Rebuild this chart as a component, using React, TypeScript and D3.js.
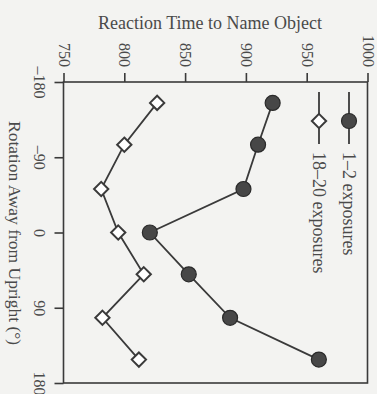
import React, { useEffect, useRef } from 'react';
import * as d3 from 'd3';

// rotation away from upright (deg) and naming times (ms)
const rotations = [-155, -105, -52, 0, 50, 102, 152];
const fewExposures = [922, 910, 898, 821, 853, 887, 960];
const manyExposures = [827, 800, 781, 795, 816, 782, 812];
const rtTicks = [750, 800, 850, 900, 950, 1000];
const rotationTicks = [-180, -90, 0, 90, 180];
const seriesNames = ['1–2 exposures', '18–20 exposures'];

const W = 377;
const H = 394;
const ink = '#3a3a3a';
const textInk = '#4a4a4a';
const font = '"Liberation Serif", "DejaVu Serif", serif';

const App = () => {
  const svgRef = useRef(null);

  useEffect(() => {
    const svg = d3.select(svgRef.current);
    svg.selectAll('*').remove();

    const x = d3.scaleLinear().domain([750, 1000]).range([63.5, 367.5]);
    const y = d3.scaleLinear().domain([-180, 180]).range([82, 383]);

    svg.append('rect').attr('width', W).attr('height', H).attr('fill', '#f3f3f1');

    // frame
    svg
      .append('rect')
      .attr('x', x(750))
      .attr('y', y(-180))
      .attr('width', x(1000) - x(750))
      .attr('height', y(180) - y(-180))
      .attr('fill', 'none')
      .attr('stroke', ink)
      .attr('stroke-width', 1.6);

    // reaction time axis along the top
    const top = svg
      .append('g')
      .attr('transform', `translate(0,${y(-180)})`)
      .call(
        d3
          .axisTop(x)
          .tickValues(rtTicks)
          .tickSize(9)
          .tickSizeOuter(0)
          .tickFormat(d3.format('d'))
      );
    top.select('.domain').remove();
    top.selectAll('line').attr('stroke', ink).attr('stroke-width', 1.6);
    top
      .selectAll('text')
      .attr('y', null)
      .attr('dy', null)
      .attr('transform', 'translate(0,-15) rotate(90)')
      .attr('text-anchor', 'end')
      .attr('dominant-baseline', 'central')
      .attr('fill', textInk)
      .style('font-family', font)
      .style('font-size', '16px');

    // rotation axis along the left
    const left = svg
      .append('g')
      .attr('transform', `translate(${x(750)},0)`)
      .call(
        d3
          .axisLeft(y)
          .tickValues(rotationTicks)
          .tickSize(9)
          .tickSizeOuter(0)
          .tickFormat(d => (d < 0 ? '–' + Math.abs(d) : String(d)))
      );
    left.select('.domain').remove();
    left.selectAll('line').attr('stroke', ink).attr('stroke-width', 1.6);
    left
      .selectAll('text')
      .attr('x', null)
      .attr('dy', null)
      .attr('transform', 'translate(-24,0) rotate(90)')
      .attr('text-anchor', 'middle')
      .attr('dominant-baseline', 'central')
      .attr('fill', textInk)
      .style('font-family', font)
      .style('font-size', '16px');

    svg
      .append('text')
      .attr('x', 210)
      .attr('y', 23)
      .attr('text-anchor', 'middle')
      .attr('dominant-baseline', 'central')
      .attr('fill', textInk)
      .style('font-family', font)
      .style('font-size', '18px')
      .text('Reaction Time to Name Object');

    svg
      .append('text')
      .attr('transform', 'translate(15,233) rotate(90)')
      .attr('text-anchor', 'middle')
      .attr('dominant-baseline', 'central')
      .attr('fill', textInk)
      .style('font-family', font)
      .style('font-size', '17.5px')
      .text('Rotation Away from Upright (°)');

    const line = d3
      .line()
      .x(d => x(d[1]))
      .y(d => y(d[0]));

    const few = rotations.map((r, i) => [r, fewExposures[i]]);
    const many = rotations.map((r, i) => [r, manyExposures[i]]);

    [few, many].forEach(pts => {
      svg
        .append('path')
        .attr('d', line(pts))
        .attr('fill', 'none')
        .attr('stroke', ink)
        .attr('stroke-width', 1.8);
    });

    const diamond = d3.symbol().type(d3.symbolDiamond2).size(130);

    svg
      .append('g')
      .selectAll('circle')
      .data(few)
      .join('circle')
      .attr('cx', d => x(d[1]))
      .attr('cy', d => y(d[0]))
      .attr('r', 7.5)
      .attr('fill', '#474747')
      .attr('stroke', '#2a2a2a')
      .attr('stroke-width', 1.2);

    svg
      .append('g')
      .selectAll('path')
      .data(many)
      .join('path')
      .attr('d', diamond)
      .attr('transform', d => `translate(${x(d[1])},${y(d[0])})`)
      .attr('fill', '#fff')
      .attr('stroke', ink)
      .attr('stroke-width', 2);

    // legend, written sideways like the rest of the figure
    const legendX = [349, 319];
    seriesNames.forEach((name, i) => {
      const g = svg.append('g').attr('transform', `translate(${legendX[i]},0)`);
      g.append('line')
        .attr('y1', 92)
        .attr('y2', 144)
        .attr('stroke', ink)
        .attr('stroke-width', 1.8);
      if (i === 0) {
        g.append('circle')
          .attr('cy', 121)
          .attr('r', 7.5)
          .attr('fill', '#474747')
          .attr('stroke', '#2a2a2a')
          .attr('stroke-width', 1.2);
      } else {
        g.append('path')
          .attr('d', diamond())
          .attr('transform', 'translate(0,121)')
          .attr('fill', '#fff')
          .attr('stroke', ink)
          .attr('stroke-width', 2);
      }
      g.append('text')
        .attr('transform', 'translate(0,152) rotate(90)')
        .attr('text-anchor', 'start')
        .attr('dominant-baseline', 'central')
        .attr('fill', textInk)
        .style('font-family', font)
        .style('font-size', '18px')
        .text(name);
    });
  }, []);

  return (
    <svg
      ref={svgRef}
      width={W}
      height={H}
      style={{ position: 'absolute', left: 0, top: 0 }}
    ></svg>
  );
};

export default App;
